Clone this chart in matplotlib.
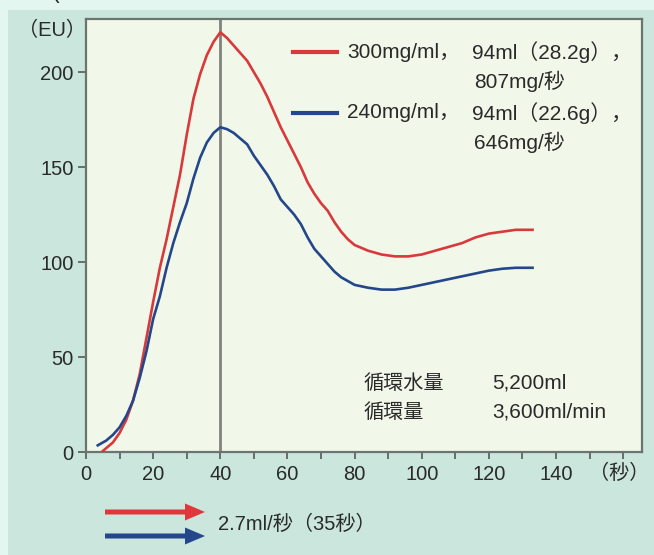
import matplotlib
matplotlib.use("Agg")
import matplotlib.pyplot as plt
from matplotlib.patches import Rectangle, FancyArrow
from matplotlib.lines import Line2D
from matplotlib.ticker import MultipleLocator

plt.rcParams["font.family"] = ["Liberation Sans", "Noto Sans CJK JP", "DejaVu Sans"]

# Enhancement curves (EU) over time (s)
time_300 = [5, 6, 8, 10, 12, 14, 16, 18, 20, 22, 24, 26, 28, 30, 32, 34, 36, 38, 40,
            42, 44, 46, 48, 50, 52, 54, 56, 58, 60, 62, 64, 66, 68, 70, 72, 74, 76, 78,
            80, 84, 88, 92, 96, 100, 104, 108, 112, 116, 120, 124, 128, 133]
eu_300 = [0.5, 2, 5, 10, 17, 27, 41, 60, 79, 97, 112, 129, 146, 167, 186, 199, 209, 216, 221,
          218, 214, 210, 206, 200, 194, 187, 179, 171, 164, 157, 150, 142, 136, 131, 127, 121, 116, 112,
          109, 106, 104, 103, 103, 104, 106, 108, 110, 113, 115, 116, 117, 117]

time_240 = [3.5, 6, 8, 10, 12, 14, 16, 18, 20, 22, 24, 26, 28, 30, 32, 34, 36, 38, 40,
            42, 44, 46, 48, 50, 52, 54, 56, 58, 60, 62, 64, 66, 68, 70, 72, 74, 76, 78,
            80, 84, 88, 92, 96, 100, 104, 108, 112, 116, 120, 124, 128, 133]
eu_240 = [3.5, 6, 9, 13, 19, 27, 39, 53, 70, 82, 97, 110, 121, 131, 144, 155, 163, 168, 171,
          170, 168, 165, 162, 156, 151, 146, 140, 133, 129, 125, 120, 113, 107, 103, 99, 95, 92, 90,
          88, 86.5, 85.5, 85.5, 86.5, 88, 89.5, 91, 92.5, 94, 95.5, 96.5, 97, 97]

series_labels = [["300mg/ml，", "94ml（28.2g），", "807mg/秒"],
                 ["240mg/ml，", "94ml（22.6g），", "646mg/秒"]]
peak_time = 40
x_ticks = [0, 20, 40, 60, 80, 100, 120, 140]
y_ticks = [0, 50, 100, 150, 200]
conditions = [("循環水量", "5,200ml"), ("循環量", "3,600ml/min")]
injection_text = "2.7ml/秒（35秒）"

RED = "#d8393b"
BLUE = "#24468a"
TXT = "#2a2a2a"
W, H = 654, 555


def fx(px):
    return px / W


def fy(py):
    return 1 - py / H


fig = plt.figure(figsize=(W / 100, H / 100), dpi=100, facecolor="#e4f6f0")
fig.patches.append(Rectangle((fx(8), 0), 1 - fx(8), fy(10), transform=fig.transFigure,
                             facecolor="#cbe6dc", edgecolor="none", zorder=-10))
fig.text(fx(30), fy(3), "図(", fontsize=16, color="#222222", va="bottom", ha="left")

ax = fig.add_axes([fx(86), fy(452), fx(642) - fx(86), fy(19) - fy(452)])
ax.set_facecolor("#f2f8e9")
ax.set_xlim(0, 165.6)
ax.set_ylim(0, 228)

ax.axvline(peak_time, color="#80837e", lw=2.0, zorder=1)
ax.plot(time_300, eu_300, color=RED, lw=1.9, zorder=3)
ax.plot(time_240, eu_240, color=BLUE, lw=1.9, zorder=3)

ax.set_xticks(x_ticks)
ax.xaxis.set_minor_locator(MultipleLocator(10))
ax.set_yticks(y_ticks)
for s in ax.spines.values():
    s.set_color("#6c746f")
    s.set_linewidth(1.6)
ax.tick_params(axis="both", which="both", direction="out", color="#555b57", width=1.2,
               labelsize=14.5, labelcolor=TXT)
ax.tick_params(axis="x", which="major", length=5, pad=4)
ax.tick_params(axis="x", which="minor", length=5)
ax.tick_params(axis="y", length=6, pad=3)

fig.text(fx(52), fy(30), "（EU）", fontsize=14.5, color=TXT, ha="center", va="center")
fig.text(fx(619), fy(473), "（秒）", fontsize=14.5, color=TXT, ha="center", va="center")

# legend drawn by hand: line sample + two-line label
for (lab, color, ly) in [(series_labels[0], RED, 52), (series_labels[1], BLUE, 113)]:
    fig.lines.append(Line2D([fx(293), fx(337)], [fy(ly), fy(ly)], transform=fig.transFigure,
                            color=color, lw=3))
    fig.text(fx(347), fy(ly), lab[0], fontsize=15, color=TXT, va="center", ha="left")
    fig.text(fx(472), fy(ly), lab[1], fontsize=15, color=TXT, va="center", ha="left")
    fig.text(fx(474), fy(ly + 29), lab[2], fontsize=15, color=TXT, va="center", ha="left")

for i, (name, val) in enumerate(conditions):
    yy = 383 + 29 * i
    fig.text(fx(364), fy(yy), name, fontsize=14.5, color=TXT, va="center", ha="left")
    fig.text(fx(492), fy(yy), val, fontsize=15, color=TXT, va="center", ha="left")

# injection arrows
for color, ay in [("#e0383a", 512), (BLUE, 536)]:
    fig.patches.append(FancyArrow(fx(105), fy(ay), fx(205) - fx(105), 0, width=5 / H,
                                  head_width=17 / H, head_length=fx(20), length_includes_head=True,
                                  transform=fig.transFigure, color=color, lw=0))
fig.text(fx(218), fy(524), injection_text, fontsize=14.5, color=TXT, va="center", ha="left")

fig.savefig("out.png", dpi=100, facecolor=fig.get_facecolor())
